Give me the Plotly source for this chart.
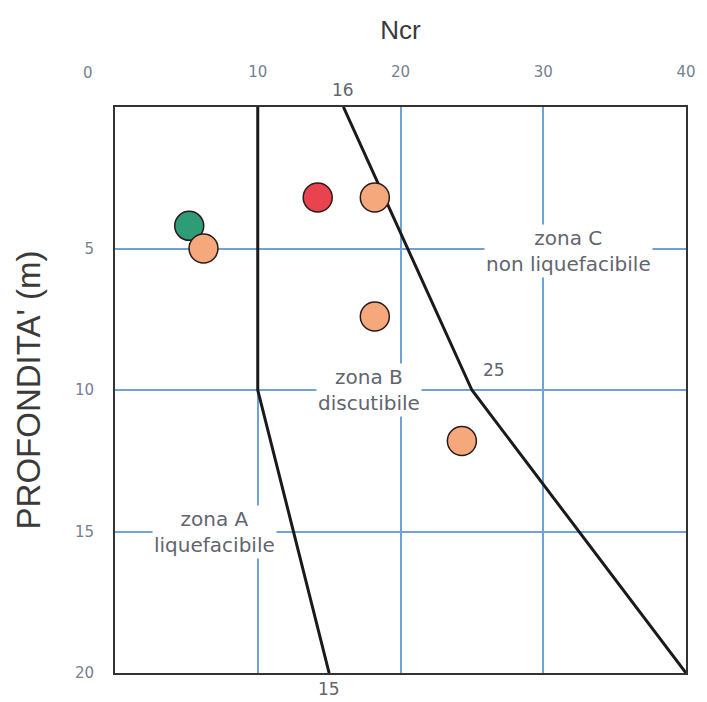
import plotly.graph_objects as go

# Data
ncr_points = [14.2, 18.2, 5.2, 6.2, 18.2, 24.3]
depth_points = [3.2, 3.2, 4.2, 5.0, 7.4, 11.8]
point_colors = ["#e8434f", "#f5a87c", "#2f9c78", "#f5a87c", "#f5a87c", "#f5a87c"]

boundary_AB_x = [10, 10, 15]
boundary_AB_y = [0, 10, 20]
boundary_BC_x = [16, 25, 40]
boundary_BC_y = [0, 10, 20]

x_tickvals = [10, 20, 30, 40]
y_tickvals = [5, 10, 15, 20]

zone_labels = ["zona C<br>non liquefacibile", "zona B<br>discutibile", "zona A<br>liquefacibile"]
zone_x = [31.8, 17.8, 7.0]
zone_y = [5.1, 10.0, 15.0]

TICK_FONT = dict(family="DejaVu Sans", size=15, color="#74818f")
LABEL_FONT = dict(family="DejaVu Sans", size=20, color="#62656e")
NUM_FONT = dict(family="DejaVu Sans", size=17, color="#62656e")

fig = go.Figure()

fig.add_trace(go.Scatter(x=boundary_AB_x, y=boundary_AB_y, mode="lines",
                         line=dict(color="#1a1a1a", width=3), showlegend=False, hoverinfo="skip"))
fig.add_trace(go.Scatter(x=boundary_BC_x, y=boundary_BC_y, mode="lines",
                         line=dict(color="#1a1a1a", width=3), showlegend=False, hoverinfo="skip"))

for zx, zy, zt in zip(zone_x, zone_y, zone_labels):
    fig.add_annotation(x=zx, y=zy, text=zt, showarrow=False, bgcolor="white", font=LABEL_FONT)

fig.add_trace(go.Scatter(x=ncr_points, y=depth_points, mode="markers",
                         marker=dict(size=29, color=point_colors, line=dict(color="#2a1a1a", width=1.5)),
                         showlegend=False))

# boundary value labels
fig.add_annotation(x=boundary_BC_x[0], y=boundary_BC_y[0], text=str(boundary_BC_x[0]), showarrow=False,
                   yshift=17, font=NUM_FONT)
fig.add_annotation(x=boundary_AB_x[2], y=boundary_AB_y[2], text=str(boundary_AB_x[2]), showarrow=False,
                   yshift=-16, font=NUM_FONT)
fig.add_annotation(x=boundary_BC_x[1], y=boundary_BC_y[1], text=str(boundary_BC_x[1]), showarrow=False,
                   xshift=22, yshift=20, font=NUM_FONT)

# "0" tick label at the left
fig.add_annotation(x=0, y=0, xref="x", yref="y", text="0", showarrow=False, xshift=-27, yshift=34,
                   font=TICK_FONT)

fig.update_xaxes(range=[0, 40], side="top", tickvals=x_tickvals,
                 showgrid=True, gridcolor="#6fa3d8", gridwidth=1.5,
                 showline=True, linecolor="#333333", linewidth=2, mirror=True,
                 zeroline=False, ticks="", ticklabelstandoff=22,
                 tickfont=TICK_FONT,
                 title=dict(text="Ncr", font=dict(family="Liberation Sans, Arial", size=26, color="#3a3a3a"),
                            standoff=16))
fig.update_yaxes(range=[20, 0], tickvals=y_tickvals,
                 showgrid=True, gridcolor="#6fa3d8", gridwidth=1.5,
                 showline=True, linecolor="#333333", linewidth=2, mirror=True,
                 zeroline=False, ticks="", ticklabelstandoff=16,
                 tickfont=TICK_FONT,
                 title=dict(text="PROFONDITA' (m)", font=dict(family="Liberation Sans, Arial", size=33, color="#3a3a3a"),
                            standoff=24))

fig.update_layout(width=699, height=694, margin=dict(l=107, r=21, t=99, b=29),
                  plot_bgcolor="white", paper_bgcolor="white")

fig.write_html("out.html")
